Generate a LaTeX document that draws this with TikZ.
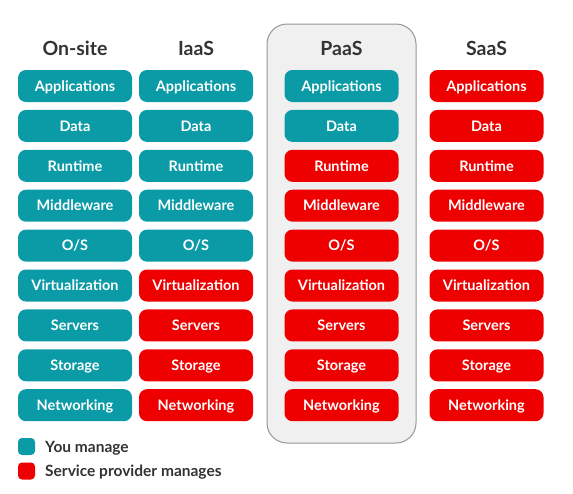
\documentclass[tikz,border=0pt]{standalone}
\usepackage{fontspec}
\setmainfont{Lato}
\usepackage{tikz}
\usetikzlibrary{positioning}
\definecolor{YouTeal}{RGB}{10,155,166}
\definecolor{ProvRed}{RGB}{238,0,0}
\definecolor{HeadGray}{RGB}{51,51,51}
\definecolor{PanelFill}{RGB}{240,240,240}
\definecolor{PanelLine}{RGB}{150,150,150}

\begin{document}
\begin{tikzpicture}[x=1pt,y=-1pt,
    box/.style={rectangle,rounded corners=8pt,minimum width=114pt,minimum height=32pt,
      inner sep=0pt,text height=10.4pt,text depth=0pt,text=white,
      font=\fontsize{14.5}{16}\selectfont\bfseries},
    head/.style={text=HeadGray,font=\fontsize{19.5}{21}\selectfont\bfseries},
    key/.style={rectangle,rounded corners=4pt,minimum size=17pt,inner sep=0pt},
    keytext/.style={anchor=west,text=HeadGray,inner sep=0pt,text height=11pt,text depth=0pt,
      font=\fontsize{15.5}{17}\selectfont\bfseries}]
  \useasboundingbox (0,0) rectangle (573,493);
  % highlighted PaaS column
  \draw[PanelLine,fill=PanelFill,line width=1pt,rounded corners=20pt] (267,24) rectangle (416,443);
  \foreach \cx/\name/\c in {75/On-site/1,196/IaaS/2,341.5/PaaS/3,486.5/SaaS/4}
    \node[head] (h\c) at (\cx,48) {\name};
  % stack: first \nteal rows are yours, the rest the provider's
  \foreach \lbl [count=\r] in {Applications,Data,Runtime,Middleware,O/S,Virtualization,Servers,Storage,Networking} {
    \foreach \cx/\nteal/\c in {75/9/1,196/5/2,341.5/2/3,486.5/0/4} {
      \ifnum\r>\nteal \def\fc{ProvRed}\else\def\fc{YouTeal}\fi
      \node[box,fill=\fc] (b\c-\r) at (\cx,{46.1+39.9*\r}) {\lbl};
    }
  }
  % legend
  \node[key,fill=YouTeal] (k1) at (26.5,446.5) {};
  \node[key,fill=ProvRed] (k2) at (26.5,471) {};
  \node[keytext] (t1) at (45,446.5) {You manage};
  \node[keytext] (t2) at (45,471) {Service provider manages};
\end{tikzpicture}
\end{document}
